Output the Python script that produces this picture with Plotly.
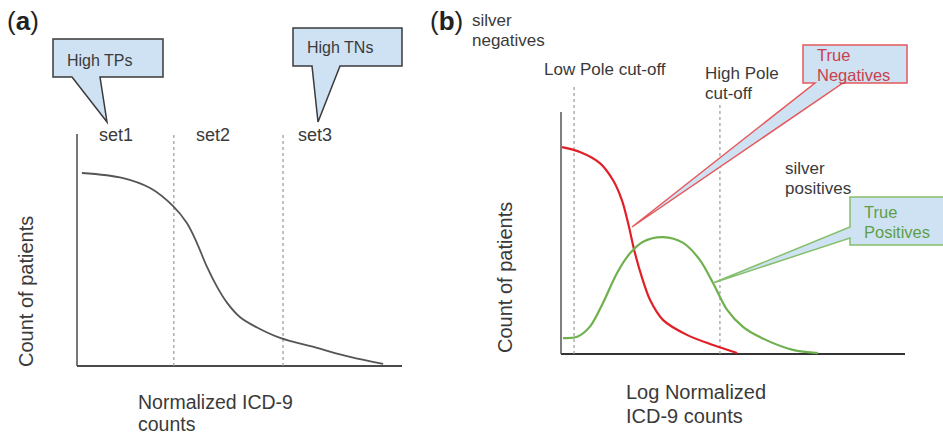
import plotly.graph_objects as go

W, H = 943, 435

# ---------------- data (arbitrary schematic units, 0..10 on each axis) ----------------
# Panel (a): single decreasing curve
a_x = [0.15, 1.42, 2.25, 2.95, 3.38, 3.69, 4.00, 4.31, 4.62, 5.02, 5.54, 6.25, 7.38, 8.40, 9.42]
a_y = [8.32, 8.10, 7.67, 6.90, 6.16, 5.30, 4.27, 3.41, 2.72, 2.10, 1.66, 1.21, 0.78, 0.39, 0.09]
a_cuts = [2.98, 6.34]
a_set_labels = ["set1", "set2", "set3"]
a_set_x = [1.20, 4.18, 7.32]

# Panel (b): silver negatives (red) and silver positives (green)
b_neg_x = [0.03, 0.55, 1.13, 1.51, 1.77, 1.95, 2.15, 2.35, 2.59, 2.97, 3.66, 4.42, 5.12]
b_neg_y = [8.55, 8.35, 7.89, 7.19, 6.36, 5.41, 4.17, 3.18, 2.23, 1.40, 0.79, 0.37, 0.04]
b_pos_x = [0.06, 0.47, 0.84, 1.22, 1.63, 2.00, 2.40, 2.97, 3.55, 4.04, 4.42, 4.83, 5.29, 5.78, 6.74, 7.47]
b_pos_y = [0.66, 0.71, 1.13, 2.11, 3.35, 4.15, 4.65, 4.83, 4.59, 3.88, 2.93, 1.82, 1.12, 0.70, 0.17, 0.04]
b_cuts = [0.38, 4.62]

# ---------------- panel geometry ----------------
# panel origin (pixel of data 0,0) and pixels per unit
PA = dict(ox=77, oy=366, sx=32.5, sy=23.2, d0=0, d1=430)
PB = dict(ox=561, oy=354, sx=34.4, sy=24.2, d0=430, d1=943)


def xr(p):
    return [(p["d0"] - p["ox"]) / p["sx"], (p["d1"] - p["ox"]) / p["sx"]]


def yr(p):
    return [(p["oy"] - H) / p["sy"], p["oy"] / p["sy"]]


def cv(p, px, py):
    return (px - p["ox"]) / p["sx"], (p["oy"] - py) / p["sy"]


FONT = "Liberation Sans, Arial, sans-serif"
TXT = "#3a3a3a"
RED = "#e01f26"
GREEN = "#6fb04f"
BLUE_FILL = "#cfe2f3"

fig = go.Figure()

# axis lines
fig.add_trace(go.Scatter(x=[0, 10], y=[0, 0], mode="lines", line=dict(color="#4a4a4a", width=1.8),
                         xaxis="x", yaxis="y", hoverinfo="skip"))
fig.add_trace(go.Scatter(x=[0, 0], y=[0, 10], mode="lines", line=dict(color="#4a4a4a", width=1.5),
                         xaxis="x", yaxis="y", hoverinfo="skip"))
fig.add_trace(go.Scatter(x=[0, 10], y=[0, 0], mode="lines", line=dict(color="#333333", width=2),
                         xaxis="x2", yaxis="y2", hoverinfo="skip"))
fig.add_trace(go.Scatter(x=[0, 0], y=[0, 10], mode="lines", line=dict(color="#555555", width=1.5),
                         xaxis="x2", yaxis="y2", hoverinfo="skip"))

# cut-off dotted lines
for c in a_cuts:
    fig.add_trace(go.Scatter(x=[c, c], y=[0, 9.96], mode="lines",
                             line=dict(color="#999999", width=1.2, dash="dot"),
                             xaxis="x", yaxis="y", hoverinfo="skip"))
for c, top in zip(b_cuts, [11.16, 10.29]):
    fig.add_trace(go.Scatter(x=[c, c], y=[0, top], mode="lines",
                             line=dict(color="#999999", width=1.2, dash="dot"),
                             xaxis="x2", yaxis="y2", hoverinfo="skip"))

# curves
fig.add_trace(go.Scatter(x=a_x, y=a_y, mode="lines",
                         line=dict(color="#555555", width=1.8, shape="spline", smoothing=1.0),
                         xaxis="x", yaxis="y"))
fig.add_trace(go.Scatter(x=b_neg_x, y=b_neg_y, mode="lines",
                         line=dict(color=RED, width=2.2, shape="spline", smoothing=0.9),
                         xaxis="x2", yaxis="y2"))
fig.add_trace(go.Scatter(x=b_pos_x, y=b_pos_y, mode="lines",
                         line=dict(color=GREEN, width=2.2, shape="spline", smoothing=0.9),
                         xaxis="x2", yaxis="y2"))


# callouts
def path(p, pts):
    s = ""
    for i, (px, py) in enumerate(pts):
        x, y = cv(p, px, py)
        s += ("M" if i == 0 else "L") + f"{x:.4f},{y:.4f} "
    return s + "Z"


shapes = []
shapes.append(dict(type="path", xref="x", yref="y", layer="above",
                   path=path(PA, [(53, 39), (163, 39), (163, 77), (100, 77), (107, 122), (72, 77), (53, 77)]),
                   fillcolor=BLUE_FILL, line=dict(color="#3a3a3a", width=1.5)))
shapes.append(dict(type="path", xref="x", yref="y", layer="above",
                   path=path(PA, [(293, 28), (402, 28), (402, 66), (340, 66), (318, 122), (312, 66), (293, 66)]),
                   fillcolor=BLUE_FILL, line=dict(color="#3a3a3a", width=1.5)))
shapes.append(dict(type="path", xref="x2", yref="y2", layer="above",
                   path=path(PB, [(803, 45), (907, 45), (907, 83), (843, 83), (632, 227), (815, 83), (803, 83)]),
                   fillcolor=BLUE_FILL, line=dict(color="#e5585c", width=1.5)))
shapes.append(dict(type="path", xref="x2", yref="y2", layer="above",
                   path=path(PB, [(850, 197), (950, 197), (950, 245), (850, 245), (850, 238), (713, 283), (850, 227)]),
                   fillcolor=BLUE_FILL, line=dict(color="#86bf6c", width=1.5)))

# text annotations
ann = []


def txt(p, ref, px, py, text, size, color=TXT, xanchor="left", angle=0):
    x, y = cv(p, px, py)
    ann.append(dict(xref="x" if ref == 1 else "x2", yref="y" if ref == 1 else "y2", x=x, y=y,
                    text=text, showarrow=False, xanchor=xanchor, yanchor="middle", textangle=angle,
                    font=dict(family=FONT, size=size, color=color)))


# panel letters (paper coordinates)
for letter, px in [("a", 5), ("b", 428)]:
    ann.append(dict(xref="paper", yref="paper", x=px / W, y=1 - 21 / H, text=f"(<b>{letter}</b>)",
                    showarrow=False, xanchor="left", yanchor="middle",
                    font=dict(family=FONT, size=26, color="#222222")))

txt(PA, 1, 65, 60, "High TPs", 16)
txt(PA, 1, 305, 47, "High TNs", 16)
for lab, sx in zip(a_set_labels, a_set_x):
    ann.append(dict(xref="x", yref="y", x=sx, y=cv(PA, 0, 135)[1], text=lab, showarrow=False,
                    xanchor="center", yanchor="middle", font=dict(family=FONT, size=18, color=TXT)))
txt(PA, 1, 26, 292, "Count of patients", 20, angle=-90, xanchor="center")
txt(PA, 1, 136, 402, "Normalized ICD-9", 19.5)
txt(PA, 1, 136, 424, "counts", 19.5)

txt(PB, 2, 470, 20, "silver", 17)
txt(PB, 2, 470, 40, "negatives", 17)
txt(PB, 2, 542, 69, "Low Pole cut-off", 17)
txt(PB, 2, 703, 73, "High Pole", 17)
txt(PB, 2, 703, 93, "cut-off", 17)
txt(PB, 2, 783, 168, "silver", 17)
txt(PB, 2, 783, 188, "positives", 17)
txt(PB, 2, 815, 55, "True", 16.5, "#c8414b")
txt(PB, 2, 815, 75, "Negatives", 16.5, "#c8414b")
txt(PB, 2, 862, 212, "True", 16.5, "#5e9e48")
txt(PB, 2, 862, 232, "Positives", 16.5, "#5e9e48")
txt(PB, 2, 505, 278, "Count of patients", 20, angle=-90, xanchor="center")
txt(PB, 2, 624, 392, "Log Normalized", 20)
txt(PB, 2, 624, 416, "ICD-9 counts", 20)

ax_common = dict(visible=False, showgrid=False, zeroline=False, fixedrange=True)
fig.update_layout(
    width=W, height=H, margin=dict(l=0, r=0, t=0, b=0),
    paper_bgcolor="white", plot_bgcolor="white", showlegend=False,
    xaxis=dict(domain=[PA["d0"] / W, PA["d1"] / W], range=xr(PA), **ax_common),
    yaxis=dict(domain=[0, 1], range=yr(PA), anchor="x", **ax_common),
    xaxis2=dict(domain=[PB["d0"] / W, PB["d1"] / W], range=xr(PB), anchor="y2", **ax_common),
    yaxis2=dict(domain=[0, 1], range=yr(PB), anchor="x2", **ax_common),
    shapes=shapes, annotations=ann,
)

fig.write_html("out.html")
